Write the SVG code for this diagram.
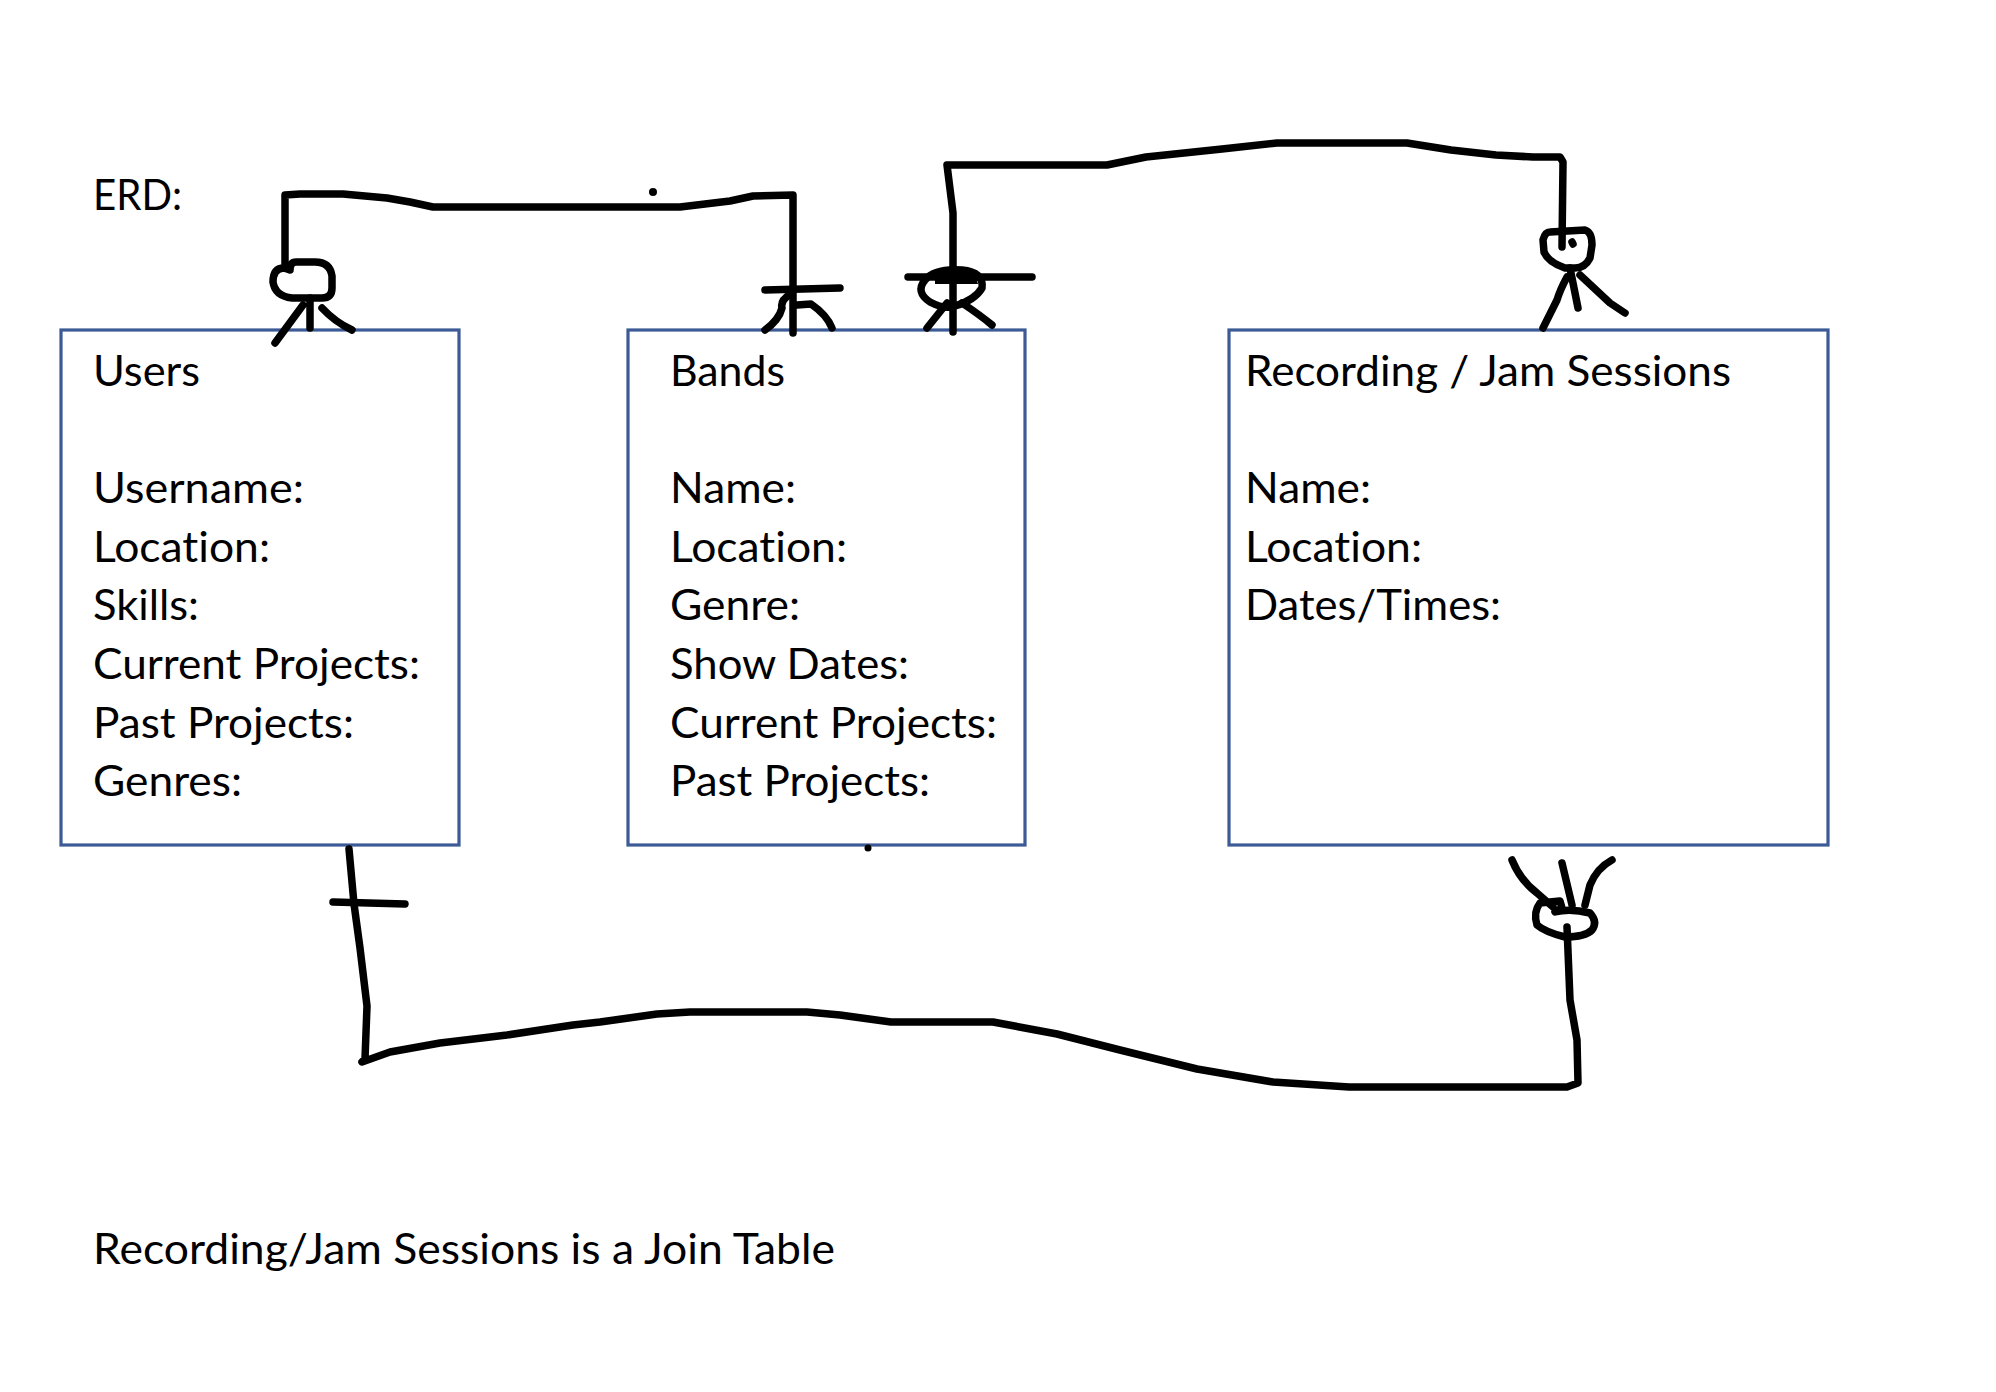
<svg xmlns="http://www.w3.org/2000/svg" width="1996" height="1392" viewBox="0 0 1996 1392">
<style>
.bg{fill:#ffffff}
.box{fill:#ffffff;stroke:#3B5A96;stroke-width:3.2}
.t{font-family:Lato,"Liberation Sans",sans-serif;font-size:42px;fill:#000000;font-variant-ligatures:none;font-feature-settings:"liga" 0,"clig" 0,"dlig" 0,"calt" 0}
.ink{fill:none;stroke:#000000;stroke-width:7.5;stroke-linecap:round;stroke-linejoin:round}
.dot{fill:#000000}
</style>
<rect class="bg" x="0" y="0" width="1996" height="1392"/>
<text class="t" x="93" y="210" textLength="89" lengthAdjust="spacingAndGlyphs">ERD:</text>
<g id="users">
<rect class="box" x="61" y="330" width="398" height="515"/>
<text class="t" x="93" y="386" textLength="107" lengthAdjust="spacingAndGlyphs">Users</text>
<text class="t" x="93" y="503" textLength="211" lengthAdjust="spacingAndGlyphs">Username:</text>
<text class="t" x="93" y="562" textLength="177" lengthAdjust="spacingAndGlyphs">Location:</text>
<text class="t" x="93" y="620" textLength="106" lengthAdjust="spacingAndGlyphs">Skills:</text>
<text class="t" x="93" y="679" textLength="327" lengthAdjust="spacingAndGlyphs">Current Projects:</text>
<text class="t" x="93" y="738" textLength="261" lengthAdjust="spacingAndGlyphs">Past Projects:</text>
<text class="t" x="93" y="796" textLength="149" lengthAdjust="spacingAndGlyphs">Genres:</text>
</g>
<g id="bands">
<rect class="box" x="628" y="330" width="397" height="515"/>
<text class="t" x="670" y="386" textLength="115" lengthAdjust="spacingAndGlyphs">Bands</text>
<text class="t" x="670" y="503" textLength="126" lengthAdjust="spacingAndGlyphs">Name:</text>
<text class="t" x="670" y="562" textLength="177" lengthAdjust="spacingAndGlyphs">Location:</text>
<text class="t" x="670" y="620" textLength="130" lengthAdjust="spacingAndGlyphs">Genre:</text>
<text class="t" x="670" y="679" textLength="239" lengthAdjust="spacingAndGlyphs">Show Dates:</text>
<text class="t" x="670" y="738" textLength="327" lengthAdjust="spacingAndGlyphs">Current Projects:</text>
<text class="t" x="670" y="796" textLength="260" lengthAdjust="spacingAndGlyphs">Past Projects:</text>
</g>
<g id="sessions">
<rect class="box" x="1229" y="330" width="599" height="515"/>
<text class="t" x="1245" y="386" textLength="486" lengthAdjust="spacingAndGlyphs">Recording / Jam Sessions</text>
<text class="t" x="1245" y="503" textLength="126" lengthAdjust="spacingAndGlyphs">Name:</text>
<text class="t" x="1245" y="562" textLength="177" lengthAdjust="spacingAndGlyphs">Location:</text>
<text class="t" x="1245" y="620" textLength="256" lengthAdjust="spacingAndGlyphs">Dates/Times:</text>
</g>
<g id="connectors">
<!-- Users to Bands -->
<path class="ink" d="M285,265 L285,195 L300,194 L343,194 L387,198 L410,202 L433,207 L500,207 L680,207 L730,201 L753,196 L793,195 L793,333"/>
<path class="ink" d="M290,270 L284,268 Q273,268 273,282 Q275,296 292,298 L322,298 Q332,298 332,288 L332,276 Q330,262 315,262 L296,262 Q290,262 290,270"/>
<path class="ink" d="M310,298 L310,328 M303,305 L275,343 M322,308 Q335,322 352,330"/>
<path class="ink" d="M765,290 L840,288 M791,294 Q780,300 782,308 Q779,320 765,330 M797,305 L811,304 Q827,315 832,328"/>
<!-- Bands to Sessions -->
<path class="ink" d="M953,332 L953,213 L947,165 L1107,165 L1146,157 L1222,149 L1277,143 L1407,143 L1451,150 L1496,155 L1533,157 L1560,157 L1563,162 L1562,247"/>
<path class="ink" d="M908,277 L1032,277"/>
<path class="ink" d="M925,280 Q915,292 930,302 Q945,310 955,306 Q975,300 982,288 Q984,272 962,270 Q935,268 925,280 Z"/>
<path class="dot" d="M935,272 Q955,264 975,274 L978,284 L935,284 Z"/>
<path class="ink" d="M947,303 L927,328 M962,303 Q980,315 992,325"/>
<path class="ink" d="M1550,232 L1585,230 Q1592,232 1592,245 L1590,258 Q1585,268 1575,268 L1565,268 Q1548,262 1544,252 L1543,240 Q1545,232 1550,232 Z"/>
<path class="ink" d="M1572,242 L1573,244"/>
<path class="ink" d="M1570,268 L1578,308 M1567,277 Q1560,290 1557,300 L1543,328 M1580,275 L1610,303 L1625,313"/>
<!-- Users to Sessions -->
<path class="ink" d="M349,849 L354,904 L360,948 L367,1006 L365,1059 L362,1062 L390,1052 L440,1043 L507,1035 L573,1025 L600,1022 L657,1014 L690,1012 L807,1012 L840,1015 L891,1022 L993,1022 L1057,1034 L1120,1050 L1197,1069 L1273,1082 L1349,1087 L1528,1087 L1567,1087 L1578,1083 L1577,1040 L1570,1000 L1567,927"/>
<path class="ink" d="M333,902 L405,904"/>
<path class="ink" d="M1512,860 Q1520,880 1537,893 L1553,907 M1562,863 L1572,905 M1612,860 Q1597,868 1590,885 L1585,905"/>
<path class="ink" d="M1540,903 L1560,901 L1562,908 L1555,912 Q1570,908 1590,913 Q1598,922 1592,930 Q1585,937 1565,937 Q1545,932 1537,925 Q1533,912 1540,903 Z"/>
<circle class="dot" cx="653" cy="192" r="4"/>
<circle class="dot" cx="868" cy="848" r="3.5"/>
</g>
<text class="t" x="93" y="1264" textLength="742" lengthAdjust="spacingAndGlyphs">Recording/Jam Sessions is a Join Table</text>
</svg>
